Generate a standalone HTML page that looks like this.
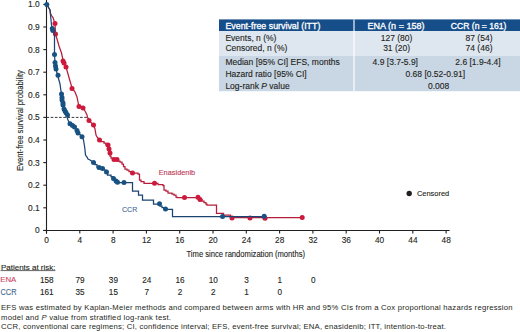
<!DOCTYPE html>
<html><head><meta charset="utf-8"><style>
html,body{margin:0;padding:0;background:#fff;width:520px;height:332px;overflow:hidden}
svg{display:block;font-family:"Liberation Sans",sans-serif}
</style></head><body>
<svg width="520" height="332" viewBox="0 0 520 332">
<rect x="219" y="19.4" width="301" height="11.6" fill="#164e8a"/>
<rect x="219" y="31" width="301" height="25" fill="#dee6ef"/>
<rect x="219" y="56" width="301" height="35.2" fill="#c9d6e4"/>
<rect x="353.2" y="19.4" width="1.6" height="71.8" fill="#ffffff" opacity="0.7"/>
<g font-family="Liberation Sans" font-size="8.4" fill="#ffffff" stroke="#ffffff" stroke-width="0.3">
<text x="225.4" y="29.2" textLength="95" lengthAdjust="spacingAndGlyphs">Event-free survival (ITT)</text>
<text x="367.5" y="29.2" textLength="57" lengthAdjust="spacingAndGlyphs">ENA (n = 158)</text>
<text x="450.8" y="29.2" textLength="55.7" lengthAdjust="spacingAndGlyphs">CCR (n = 161)</text>
</g>
<g font-family="Liberation Sans" font-size="8.5" fill="#231f20" stroke="#231f20" stroke-width="0.12">
<text x="225.4" y="40.9">Events, n (%)</text>
<text x="225.4" y="51.3">Censored, n (%)</text>
<text x="225.4" y="64.6">Median [95% CI] EFS, months</text>
<text x="225.4" y="76.8">Hazard ratio [95% CI]</text>
<text x="225.4" y="88.5">Log-rank <tspan font-style="italic">P</tspan> value</text>
<text x="396.6" y="40.9" text-anchor="middle">127 (80)</text>
<text x="396.6" y="51.3" text-anchor="middle">31 (20)</text>
<text x="479" y="40.9" text-anchor="middle">87 (54)</text>
<text x="479" y="51.3" text-anchor="middle">74 (46)</text>
<text x="395.3" y="64.6" text-anchor="middle">4.9 [3.7-5.9]</text>
<text x="478" y="64.6" text-anchor="middle">2.6 [1.9-4.4]</text>
<text x="435.3" y="76.8" text-anchor="middle">0.68 [0.52-0.91]</text>
<text x="438.6" y="88.5" text-anchor="middle">0.008</text>
</g>
<g stroke="#231f20" stroke-width="1.1" fill="none">
<line x1="46.5" y1="0" x2="46.5" y2="233.6"/>
<line x1="43.3" y1="230.5" x2="449.6" y2="230.5"/>
<line x1="43.3" y1="4.40" x2="46.5" y2="4.40"/>
<line x1="43.3" y1="27.00" x2="46.5" y2="27.00"/>
<line x1="43.3" y1="49.60" x2="46.5" y2="49.60"/>
<line x1="43.3" y1="72.20" x2="46.5" y2="72.20"/>
<line x1="43.3" y1="94.80" x2="46.5" y2="94.80"/>
<line x1="43.3" y1="117.40" x2="46.5" y2="117.40"/>
<line x1="43.3" y1="140.00" x2="46.5" y2="140.00"/>
<line x1="43.3" y1="162.60" x2="46.5" y2="162.60"/>
<line x1="43.3" y1="185.20" x2="46.5" y2="185.20"/>
<line x1="43.3" y1="207.80" x2="46.5" y2="207.80"/>
<line x1="43.3" y1="230.40" x2="46.5" y2="230.40"/>
<line x1="46.50" y1="230.5" x2="46.50" y2="233.6"/>
<line x1="79.80" y1="230.5" x2="79.80" y2="233.6"/>
<line x1="113.10" y1="230.5" x2="113.10" y2="233.6"/>
<line x1="146.40" y1="230.5" x2="146.40" y2="233.6"/>
<line x1="179.70" y1="230.5" x2="179.70" y2="233.6"/>
<line x1="213.00" y1="230.5" x2="213.00" y2="233.6"/>
<line x1="246.30" y1="230.5" x2="246.30" y2="233.6"/>
<line x1="279.60" y1="230.5" x2="279.60" y2="233.6"/>
<line x1="312.90" y1="230.5" x2="312.90" y2="233.6"/>
<line x1="346.20" y1="230.5" x2="346.20" y2="233.6"/>
<line x1="379.50" y1="230.5" x2="379.50" y2="233.6"/>
<line x1="412.80" y1="230.5" x2="412.80" y2="233.6"/>
<line x1="446.10" y1="230.5" x2="446.10" y2="233.6"/>
</g>
<g font-family="Liberation Sans" font-size="8.4" fill="#231f20" stroke="#231f20" stroke-width="0.12" text-anchor="end">
<text x="39.7" y="7.40">1.0</text>
<text x="39.7" y="30.00">0.9</text>
<text x="39.7" y="52.60">0.8</text>
<text x="39.7" y="75.20">0.7</text>
<text x="39.7" y="97.80">0.6</text>
<text x="39.7" y="120.40">0.5</text>
<text x="39.7" y="143.00">0.4</text>
<text x="39.7" y="165.60">0.3</text>
<text x="39.7" y="188.20">0.2</text>
<text x="39.7" y="210.80">0.1</text>
<text x="39.7" y="233.40">0</text>
</g>
<g font-family="Liberation Sans" font-size="8.3" fill="#231f20" stroke="#231f20" stroke-width="0.12" text-anchor="middle">
<text x="46.60" y="243.4">0</text>
<text x="79.90" y="243.4">4</text>
<text x="113.20" y="243.4">8</text>
<text x="146.50" y="243.4">12</text>
<text x="179.80" y="243.4">16</text>
<text x="213.10" y="243.4">20</text>
<text x="246.40" y="243.4">24</text>
<text x="279.70" y="243.4">28</text>
<text x="313.00" y="243.4">32</text>
<text x="346.30" y="243.4">36</text>
<text x="379.60" y="243.4">40</text>
<text x="412.90" y="243.4">44</text>
<text x="446.20" y="243.4">48</text>
</g>
<text x="186.5" y="256.8" font-family="Liberation Sans" font-size="8.7" fill="#231f20" stroke="#231f20" stroke-width="0.12" textLength="118.5" lengthAdjust="spacingAndGlyphs">Time since randomization (months)</text>
<text transform="translate(22.7,120.6) rotate(-90)" font-family="Liberation Sans" font-size="9.6" fill="#231f20" stroke="#231f20" stroke-width="0.12" text-anchor="middle" textLength="101" lengthAdjust="spacingAndGlyphs">Event-free survival probability</text>
<line x1="46.5" y1="117.4" x2="87.5" y2="117.4" stroke="#231f20" stroke-width="0.9" stroke-dasharray="2.6,1.6"/>
<polyline points="46.8,4.5 50.0,10.0 50.4,13.0 51.5,15.5 53.0,17.5 55.0,23.5 55.5,34.0 57.0,39.0 59.0,46.0 61.5,53.0 63.0,60.0 64.0,63.0 66.0,67.0 68.0,74.0 70.0,81.0 72.0,88.0 75.0,92.0 77.0,97.0 78.0,102.0 79.0,106.5 83.0,108.0 85.0,111.0 87.0,115.0 87.5,117.0 89.0,120.5 93.5,125.0 95.0,129.0 96.0,135.0 97.0,137.0 99.5,140.0 101.0,140.0 101.0,141.5 104.0,141.5 104.0,143.0 106.0,143.0 106.0,145.0 108.0,145.0 108.0,149.0 109.0,149.0 109.0,153.0 110.0,153.0 110.0,156.0 111.0,156.0 111.0,158.0 113.0,158.0 113.0,159.5 118.0,159.5 118.0,161.0 120.0,161.0 120.0,162.0 122.0,162.0 122.0,164.0 123.5,164.0 123.5,166.5 125.0,166.5 125.0,169.0 127.0,169.0 127.0,170.0 129.0,170.0 129.0,171.5 131.0,171.5 131.0,173.0 138.0,173.0 138.0,174.0 139.5,174.0 139.5,180.0 141.0,180.0 141.0,181.5 144.0,181.5 144.0,183.3 158.0,183.3 158.0,184.5 163.0,184.5 163.0,185.5 164.0,185.5 164.0,190.0 166.0,190.0 166.0,191.0 168.0,191.0 168.0,193.0 172.0,193.0 172.0,194.0 174.0,194.0 174.0,195.0 176.0,195.0 176.0,197.0 177.0,197.0 177.0,197.5 198.0,197.5 198.0,198.5 200.0,198.5 200.0,199.5 202.0,199.5 202.0,201.0 204.0,201.0 204.0,202.5 206.0,202.5 206.0,204.0 207.0,204.0 207.0,205.2 216.5,205.2 216.5,213.3 223.5,213.3 223.5,215.2 230.5,215.2 230.5,217.6 302.2,217.6" fill="none" stroke="#b51d3a" stroke-width="1.25" stroke-linejoin="miter"/>
<g fill="#cc1a3c"><circle cx="55.0" cy="23.5" r="2.5"/><circle cx="55.5" cy="34.0" r="2.5"/><circle cx="63.0" cy="61.0" r="2.5"/><circle cx="64.0" cy="63.0" r="2.5"/><circle cx="66.0" cy="67.0" r="2.5"/><circle cx="72.0" cy="88.5" r="2.5"/><circle cx="79.0" cy="106.5" r="2.5"/><circle cx="83.0" cy="108.0" r="2.5"/><circle cx="89.0" cy="120.5" r="2.5"/><circle cx="93.5" cy="125.0" r="2.5"/><circle cx="99.5" cy="140.0" r="2.5"/><circle cx="108.0" cy="145.0" r="2.5"/><circle cx="109.0" cy="149.0" r="2.5"/><circle cx="110.0" cy="153.0" r="2.5"/><circle cx="114.0" cy="159.5" r="2.5"/><circle cx="117.0" cy="159.5" r="2.5"/><circle cx="132.5" cy="173.0" r="2.5"/><circle cx="154.5" cy="183.3" r="2.5"/><circle cx="184.5" cy="197.5" r="2.5"/><circle cx="198.0" cy="197.3" r="2.5"/><circle cx="200.0" cy="199.5" r="2.5"/><circle cx="232.0" cy="218.0" r="2.5"/><circle cx="250.0" cy="218.0" r="2.5"/><circle cx="265.0" cy="218.3" r="2.5"/><circle cx="302.2" cy="217.6" r="2.5"/></g>
<polyline points="46.8,4.5 50.0,10.0 50.5,15.0 51.0,20.0 51.5,25.0 52.5,29.5 54.5,35.0 54.5,54.0 55.0,63.0 55.5,66.0 56.0,69.0 57.5,75.0 60.0,84.0 61.0,91.0 61.5,94.0 62.0,100.0 63.0,105.0 64.0,109.0 66.0,113.0 67.0,117.0 68.0,120.0 70.0,124.0 72.5,125.5 74.5,127.0 77.0,130.5 78.0,133.0 82.0,136.5 83.5,140.0 84.5,146.0 85.0,150.0 85.5,155.0 87.0,157.0 88.0,159.0 90.0,160.0 93.5,162.5 95.0,162.5 95.0,164.5 97.0,164.5 97.0,167.0 101.0,167.0 101.0,168.5 104.0,168.5 104.0,170.0 106.0,170.0 106.0,172.0 107.5,172.0 107.5,175.0 111.0,175.0 111.0,176.5 113.0,176.5 113.0,178.5 114.5,178.5 114.5,180.5 116.5,180.5 116.5,182.5 132.5,182.5 132.5,191.0 138.5,191.0 138.5,195.0 142.5,195.0 142.5,200.0 153.5,200.0 153.5,204.0 160.0,204.0 160.0,206.0 162.0,206.0 162.0,207.5 164.0,207.5 164.0,209.3 172.5,209.3 172.5,216.6 264.5,216.6" fill="none" stroke="#1b4470" stroke-width="1.25" stroke-linejoin="miter"/>
<g fill="#175283"><circle cx="46.8" cy="4.5" r="2.5"/><circle cx="52.3" cy="28.5" r="2.5"/><circle cx="52.8" cy="30.5" r="2.5"/><circle cx="54.5" cy="54.5" r="2.5"/><circle cx="55.0" cy="62.5" r="2.5"/><circle cx="55.5" cy="66.0" r="2.5"/><circle cx="56.0" cy="69.0" r="2.5"/><circle cx="58.0" cy="75.3" r="2.5"/><circle cx="61.5" cy="94.0" r="2.5"/><circle cx="62.0" cy="97.5" r="2.5"/><circle cx="62.0" cy="100.0" r="2.5"/><circle cx="63.0" cy="103.0" r="2.5"/><circle cx="63.0" cy="105.0" r="2.5"/><circle cx="64.0" cy="109.0" r="2.5"/><circle cx="65.0" cy="111.0" r="2.5"/><circle cx="66.0" cy="112.8" r="2.5"/><circle cx="67.5" cy="115.0" r="2.5"/><circle cx="70.0" cy="123.8" r="2.5"/><circle cx="72.5" cy="125.5" r="2.5"/><circle cx="74.5" cy="127.0" r="2.5"/><circle cx="77.0" cy="130.5" r="2.5"/><circle cx="78.0" cy="133.0" r="2.5"/><circle cx="82.0" cy="136.8" r="2.5"/><circle cx="93.5" cy="162.5" r="2.5"/><circle cx="99.0" cy="167.5" r="2.5"/><circle cx="102.5" cy="168.5" r="2.5"/><circle cx="106.5" cy="172.0" r="2.5"/><circle cx="113.5" cy="178.5" r="2.5"/><circle cx="116.0" cy="181.0" r="2.5"/><circle cx="117.5" cy="182.3" r="2.5"/><circle cx="124.0" cy="182.5" r="2.5"/><circle cx="159.5" cy="203.8" r="2.5"/><circle cx="165.5" cy="209.0" r="2.5"/><circle cx="222.5" cy="216.6" r="2.5"/><circle cx="264.2" cy="216.2" r="2.5"/></g>
<text x="158.7" y="175.4" font-family="Liberation Sans" font-size="7.4" fill="#bd3a58" stroke="#bd3a58" stroke-width="0.12" textLength="36.5" lengthAdjust="spacingAndGlyphs">Enasidenib</text>
<text x="122" y="211.6" font-family="Liberation Sans" font-size="7.6" fill="#3f6a98" stroke="#3f6a98" stroke-width="0.12" textLength="15.2" lengthAdjust="spacingAndGlyphs">CCR</text>
<circle cx="409.2" cy="193.5" r="2.7" fill="#231f20"/>
<text x="416.9" y="195.7" font-family="Liberation Sans" font-size="7.4" fill="#231f20" stroke="#231f20" stroke-width="0.12" textLength="32.3" lengthAdjust="spacingAndGlyphs">Censored</text>
<g font-family="Liberation Sans" font-size="7.8" fill="#231f20" stroke="#231f20" stroke-width="0.12">
<text x="1" y="269.5" textLength="54.4" lengthAdjust="spacingAndGlyphs">Patients at risk:</text>
</g>
<line x1="0.6" y1="270.6" x2="55.4" y2="270.6" stroke="#231f20" stroke-width="0.7"/>
<text x="0.3" y="282.3" textLength="16" lengthAdjust="spacingAndGlyphs" font-family="Liberation Sans" font-size="8" fill="#cc4565" stroke="#cc4565" stroke-width="0.12">ENA</text>
<text x="0.5" y="294.5" textLength="16" lengthAdjust="spacingAndGlyphs" font-family="Liberation Sans" font-size="8.2" fill="#44698f" stroke="#44698f" stroke-width="0.12">CCR</text>
<g font-family="Liberation Sans" font-size="8.2" fill="#231f20" stroke="#231f20" stroke-width="0.12" text-anchor="middle">
<text x="46.80" y="282.5">158</text>
<text x="80.10" y="282.5">79</text>
<text x="113.40" y="282.5">39</text>
<text x="146.70" y="282.5">24</text>
<text x="180.00" y="282.5">16</text>
<text x="213.30" y="282.5">10</text>
<text x="246.60" y="282.5">3</text>
<text x="279.90" y="282.5">1</text>
<text x="313.20" y="282.5">0</text>
<text x="46.80" y="294.6">161</text>
<text x="80.10" y="294.6">35</text>
<text x="113.40" y="294.6">15</text>
<text x="146.70" y="294.6">7</text>
<text x="180.00" y="294.6">2</text>
<text x="213.30" y="294.6">2</text>
<text x="246.60" y="294.6">1</text>
<text x="279.90" y="294.6">0</text>
</g>
<g font-family="Liberation Sans" font-size="7.7" fill="#231f20">
<text x="1" y="310.2" textLength="511.5" lengthAdjust="spacing">EFS was estimated by Kaplan-Meier methods and compared between arms with HR and 95% CIs from a Cox proportional hazards regression</text>
<text x="1" y="319.7" textLength="170" lengthAdjust="spacing">model and <tspan font-style="italic">P</tspan> value from stratified log-rank test.</text>
<text x="1" y="329.4" textLength="445" lengthAdjust="spacing">CCR, conventional care regimens; CI, confidence interval; EFS, event-free survival; ENA, enasidenib; ITT, intention-to-treat.</text>
</g>
</svg>
</body></html>
